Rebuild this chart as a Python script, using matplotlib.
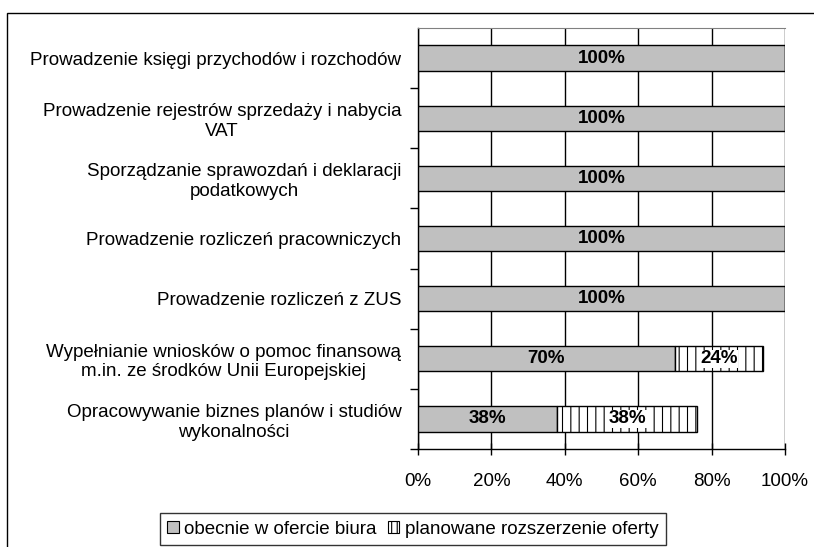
import matplotlib
matplotlib.use("Agg")
import matplotlib.pyplot as plt
from matplotlib.patches import Patch, Rectangle

plt.rcParams["font.family"] = ["Liberation Sans", "DejaVu Sans"]
plt.rcParams["hatch.linewidth"] = 0.8

categories = [
    "Prowadzenie księgi przychodów i rozchodów",
    "Prowadzenie rejestrów sprzedaży i nabycia\nVAT",
    "Sporządzanie sprawozdań i deklaracji\npodatkowych",
    "Prowadzenie rozliczeń pracowniczych",
    "Prowadzenie rozliczeń z ZUS",
    "Wypełnianie wniosków o pomoc finansową\nm.in. ze środków Unii Europejskiej",
    "Opracowywanie biznes planów i studiów\nwykonalności",
]
current = [100, 100, 100, 100, 100, 70, 38]
planned = [0, 0, 0, 0, 0, 24, 38]
xticks = [0, 20, 40, 60, 80, 100]
series_names = ["obecnie w ofercie biura", "planowane rozszerzenie oferty"]

FS = 13.5
W, H = 814, 547
fig = plt.figure(figsize=(W / 100, H / 100), dpi=100)
ax = fig.add_axes([418 / W, 1 - 449 / H, (785 - 418) / W, (449 - 28) / H])

# outer chart frame
fig.patches.append(Rectangle((7 / W, -0.05), 1.1, 1 - 13 / H + 0.05,
                             transform=fig.transFigure, fill=False,
                             edgecolor="black", linewidth=1.0))

n = len(categories)
y = list(range(n))
bh = 0.42

ax.barh(y, current, height=bh, color="#c0c0c0", edgecolor="black",
        linewidth=1.0, zorder=3)
ax.barh(y, planned, left=current, height=bh, color="white", edgecolor="black",
        hatch="||", linewidth=1.0, zorder=3)

for i in range(n):
    if current[i] > 0:
        ax.text(current[i] / 2, i, f"{current[i]}%", ha="center", va="center",
                fontsize=FS, fontweight="bold", zorder=5)
    if planned[i] > 0:
        ax.text(current[i] + planned[i] / 2, i, f"{planned[i]}%", ha="center",
                va="center", fontsize=FS, fontweight="bold", zorder=5,
                bbox=dict(facecolor="white", edgecolor="none", pad=0.5))

ax.set_xlim(0, 100)
ax.set_ylim(n - 0.5, -0.5)
ax.set_xticks(xticks)
ax.set_xticklabels([f"{t}%" for t in xticks], fontsize=FS)
ax.xaxis.grid(True, color="black", linewidth=1.0, zorder=0)
ax.tick_params(axis="x", direction="inout", length=8, width=1.0, pad=13)

ax.set_yticks(y)
ax.set_yticklabels(categories, fontsize=FS, multialignment="center")
ax.tick_params(axis="y", length=0, pad=12)
ax.set_yticks([i + 0.5 for i in range(n)], minor=True)
ax.tick_params(axis="y", which="minor", direction="out", length=6, width=1.0)

for s in ["left", "bottom"]:
    ax.spines[s].set_linewidth(1.0)
ax.spines["right"].set_visible(False)
ax.spines["top"].set_color("#808080")

handles = [Patch(facecolor="#c0c0c0", edgecolor="black", linewidth=0.8),
           Patch(facecolor="white", edgecolor="black", hatch="|||", linewidth=0.8)]
leg = fig.legend(handles, series_names, loc="center", ncol=2,
                 bbox_to_anchor=(413 / W, 1 - 529 / H), fontsize=FS,
                 frameon=True, fancybox=False, handlelength=0.6,
                 handleheight=0.6, handletextpad=0.3, columnspacing=0.6,
                 borderpad=0.4, borderaxespad=0)
leg.get_frame().set_edgecolor("black")
leg.get_frame().set_linewidth(1.0)

fig.savefig("out.png", dpi=100)
